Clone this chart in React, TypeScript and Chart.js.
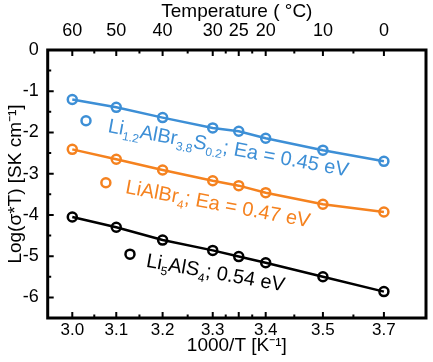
import React, { useEffect, useRef } from "react";
import { Chart, registerables } from "chart.js";

Chart.register(...registerables);

// x positions: 1000/T for T = 60, 50, 40, 30, 25, 20, 10, 0 °C
const xValues = [3.002, 3.095, 3.193, 3.299, 3.354, 3.411, 3.532, 3.661];
const tempLabels = ["60", "50", "40", "30", "25", "20", "10", "0"];
const invTLabels = ["3.0", "3.1", "3.2", "3.3", "", "3.4", "3.5", "3.7"];
const yTicks = [0, -1, -2, -3, -4, -5, -6];

const blueValues = [-1.2, -1.39, -1.64, -1.89, -1.97, -2.14, -2.43, -2.7];
const orangeValues = [-2.41, -2.65, -2.91, -3.17, -3.29, -3.46, -3.74, -3.93];
const blackValues = [-4.05, -4.3, -4.61, -4.86, -5.01, -5.16, -5.5, -5.86];

const BLUE = "#3d8fd6";
const ORANGE = "#f5821f";
const BLACK = "#000000";

// annotation labels: [text, "n" | "sub"] segments
const blueLabel: [string, string][] = [["Li", "n"], ["1.2", "sub"], ["AlBr", "n"], ["3.8", "sub"], ["S", "n"], ["0.2", "sub"], ["; Ea = 0.45 eV", "n"]];
const orangeLabel: [string, string][] = [["LiAlBr", "n"], ["4", "sub"], ["; Ea = 0.47 eV", "n"]];
const blackLabel: [string, string][] = [["Li", "n"], ["5", "sub"], ["AlS", "n"], ["4", "sub"], ["; 0.54 eV", "n"]];

// annotation anchors in data coordinates
const markerPos = [
  { x: 3.031, y: -1.716, color: BLUE },
  { x: 3.073, y: -3.221, color: ORANGE },
  { x: 3.124, y: -4.951, color: BLACK },
];
const textPos = [
  { x: 3.076, y: -1.99, color: BLUE, seg: blueLabel, angle: 10.5 },
  { x: 3.113, y: -3.47, color: ORANGE, seg: orangeLabel, angle: 10.5 },
  { x: 3.157, y: -5.26, color: BLACK, seg: blackLabel, angle: 10 },
];

const FONT = "'Liberation Sans', Arial, sans-serif";

const framePlugin = {
  id: "framePlugin",
  afterDatasetsDraw(chart: any) {
    const { ctx, chartArea: a, scales } = chart;
    const xs = scales.x;
    const ys = scales.y;
    ctx.save();
    // annotation markers
    for (const m of markerPos) {
      const px = xs.getPixelForValue(m.x);
      const py = ys.getPixelForValue(m.y);
      ctx.beginPath();
      ctx.arc(px, py, 4.5, 0, Math.PI * 2);
      ctx.lineWidth = 2.5;
      ctx.strokeStyle = m.color;
      ctx.stroke();
    }
    // annotation texts
    for (const t of textPos) {
      const px = xs.getPixelForValue(t.x);
      const py = ys.getPixelForValue(t.y);
      ctx.save();
      ctx.translate(px, py);
      ctx.rotate((t.angle * Math.PI) / 180);
      ctx.fillStyle = t.color;
      ctx.textBaseline = "alphabetic";
      ctx.textAlign = "left";
      let cx = 0;
      for (const [s, kind] of t.seg) {
        if (kind === "sub") {
          ctx.font = `12px ${FONT}`;
          ctx.fillText(s, cx, 5);
        } else {
          ctx.font = `20px ${FONT}`;
          ctx.fillText(s, cx, 0);
        }
        cx += ctx.measureText(s).width;
      }
      ctx.restore();
    }
    // ticks
    ctx.strokeStyle = "#000";
    ctx.lineWidth = 2;
    const majorX = xValues;
    const minorX: number[] = [];
    for (let i = 0; i < majorX.length - 1; i++) minorX.push((majorX[i] + majorX[i + 1]) / 2);
    ctx.beginPath();
    for (const v of majorX) {
      const p = xs.getPixelForValue(v);
      ctx.moveTo(p, a.bottom);
      ctx.lineTo(p, a.bottom - 6);
      ctx.moveTo(p, a.top);
      ctx.lineTo(p, a.top + 6);
    }
    for (const v of minorX) {
      const p = xs.getPixelForValue(v);
      ctx.moveTo(p, a.bottom);
      ctx.lineTo(p, a.bottom - 3.5);
      ctx.moveTo(p, a.top);
      ctx.lineTo(p, a.top + 3.5);
    }
    for (const v of yTicks) {
      const p = ys.getPixelForValue(v);
      ctx.moveTo(a.left, p);
      ctx.lineTo(a.left + 6, p);
      const pm = ys.getPixelForValue(v - 0.5);
      if (pm < a.bottom) {
        ctx.moveTo(a.left, pm);
        ctx.lineTo(a.left + 3.5, pm);
      }
    }
    ctx.stroke();
    // frame
    ctx.lineWidth = 3;
    ctx.strokeRect(a.left, a.top, a.right - a.left, a.bottom - a.top);
    ctx.restore();
  },
};

export default function App() {
  const ref = useRef<HTMLCanvasElement | null>(null);
  useEffect(() => {
    document.body.style.margin = "0";
    const mk = (label: string, data: number[], color: string) => ({
      label,
      data: data.map((y, i) => ({ x: xValues[i], y })),
      borderColor: color,
      backgroundColor: "rgba(0,0,0,0)",
      borderWidth: 2.5,
      pointRadius: 4.5,
      pointBorderWidth: 2.5,
      pointBorderColor: color,
      pointBackgroundColor: "rgba(0,0,0,0)",
      tension: 0,
      xAxisID: "x",
      yAxisID: "y",
    });
    const chart = new Chart(ref.current as HTMLCanvasElement, {
      type: "line",
      data: {
        datasets: [
          mk("Li1.2AlBr3.8S0.2", blueValues, BLUE),
          mk("LiAlBr4", orangeValues, ORANGE),
          mk("Li5AlS4", blackValues, BLACK),
        ],
      },
      options: {
        animation: false,
        responsive: true,
        maintainAspectRatio: false,
        layout: { padding: { left: 0, right: 2, top: 0, bottom: 0 } },
        plugins: { legend: { display: false }, tooltip: { enabled: false } },
        scales: {
          x: {
            type: "linear",
            position: "bottom",
            min: 2.95,
            max: 3.75,
            afterBuildTicks: (s: any) => {
              s.ticks = xValues.map((v) => ({ value: v }));
            },
            afterFit: (s: any) => {
              s.height = 44;
            },
            grid: { display: false, drawTicks: false },
            border: { display: false },
            ticks: {
              autoSkip: false,
              maxRotation: 0,
              padding: 2,
              color: "#000",
              font: { family: FONT, size: 17 },
              callback: (_v: any, i: number) => invTLabels[i],
            },
            title: {
              display: true,
              text: "1000/T [K\u207B\u00B9]",
              color: "#000",
              font: { family: FONT, size: 19 },
              padding: { top: 0, bottom: 5 },
            },
          },
          xTop: {
            type: "linear",
            position: "top",
            min: 2.95,
            max: 3.75,
            afterBuildTicks: (s: any) => {
              s.ticks = xValues.map((v) => ({ value: v }));
            },
            afterFit: (s: any) => {
              s.height = 50;
            },
            grid: { display: false, drawTicks: false },
            border: { display: false },
            ticks: {
              autoSkip: false,
              maxRotation: 0,
              padding: 8,
              color: "#000",
              font: { family: FONT, size: 18 },
              callback: (_v: any, i: number) => tempLabels[i],
            },
            title: {
              display: true,
              text: "Temperature ( \u00B0C)",
              color: "#000",
              font: { family: FONT, size: 19 },
              padding: { top: 0, bottom: 0 },
            },
          },
          y: {
            type: "linear",
            position: "left",
            min: -6.5,
            max: 0,
            afterBuildTicks: (s: any) => {
              s.ticks = yTicks.map((v) => ({ value: v }));
            },
            afterFit: (s: any) => {
              s.width = 47.7;
            },
            grid: { display: false, drawTicks: false },
            border: { display: false },
            ticks: {
              padding: 9,
              color: "#000",
              font: { family: FONT, size: 18 },
              callback: (v: any) => String(v),
            },
            title: {
              display: true,
              text: "Log(\u03C3*T) [SK cm\u207B\u00B9]",
              color: "#000",
              font: { family: FONT, size: 19 },
              padding: { top: 4, bottom: 0 },
            },
          },
        },
      },
      plugins: [framePlugin],
    });
    return () => chart.destroy();
  }, []);
  return (
    <div style={{ width: 433, height: 362, position: "relative" }}>
      <canvas ref={ref} />
    </div>
  );
}
